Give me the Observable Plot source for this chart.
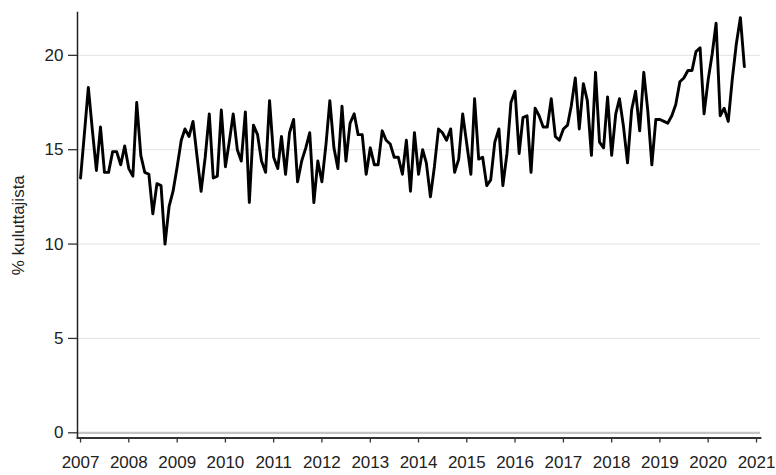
<!DOCTYPE html>
<html>
<head>
<meta charset="utf-8">
<script src="https://cdn.jsdelivr.net/npm/d3@7"></script>
<script src="https://cdn.jsdelivr.net/npm/@observablehq/plot@0.6"></script>
<style>
  html, body { margin: 0; padding: 0; background: #fff; }
  #chart svg { display: block; }
</style>
</head>
<body>
<div id="chart"></div>
<script>
// Monthly series, starting January 2007
const startYear = 2007;
const startMonth = 0;
const values = [
  13.5, 16.0, 18.3, 16.0, 13.9, 16.2, 13.8, 13.8, 14.9, 14.9, 14.2, 15.2,
  14.0, 13.6, 17.5, 14.7, 13.8, 13.7, 11.6, 13.2, 13.1, 10.0, 12.0, 12.8,
  14.1, 15.5, 16.1, 15.7, 16.5, 14.6, 12.8, 14.6, 16.9, 13.5, 13.6, 17.1,
  14.1, 15.5, 16.9, 15.0, 14.4, 17.0, 12.2, 16.3, 15.8, 14.4, 13.8, 17.6,
  14.6, 14.0, 15.7, 13.7, 15.9, 16.6, 13.3, 14.4, 15.1, 15.9, 12.2, 14.4,
  13.3, 15.3, 17.6, 15.1, 14.0, 17.3, 14.4, 16.4, 16.9, 15.8, 15.8, 13.7,
  15.1, 14.2, 14.2, 16.0, 15.5, 15.3, 14.6, 14.6, 13.7, 15.5, 12.8, 15.9,
  13.7, 15.0, 14.3, 12.5, 14.1, 16.1, 15.9, 15.5, 16.1, 13.8, 14.5, 16.9,
  15.3, 13.7, 17.7, 14.5, 14.6, 13.1, 13.4, 15.4, 16.1, 13.1, 14.8, 17.5,
  18.1, 14.8, 16.7, 16.8, 13.8, 17.2, 16.8, 16.2, 16.2, 17.7, 15.7, 15.5,
  16.1, 16.3, 17.3, 18.8, 16.1, 18.5, 17.6, 14.7, 19.1, 15.4, 15.1, 17.8,
  14.7, 16.9, 17.7, 16.2, 14.3, 17.1, 18.1, 16.0, 19.1, 17.1, 14.2, 16.6,
  16.6, 16.5, 16.4, 16.8, 17.4, 18.6, 18.8, 19.2, 19.2, 20.2, 20.4, 16.9,
  18.7, 20.1, 21.7, 16.8, 17.2, 16.5, 18.7, 20.6, 22.0, 19.4
];
const yTicks = [0, 5, 10, 15, 20];
const xTickYears = [2007, 2008, 2009, 2010, 2011, 2012, 2013, 2014, 2015, 2016, 2017, 2018, 2019, 2020, 2021];
const yLabel = "% kuluttajista";

const data = values.map((v, i) => ({
  date: d3.utcMonth.offset(new Date(Date.UTC(startYear, startMonth, 1)), i),
  value: v
}));
const xTicks = xTickYears.map(y => new Date(Date.UTC(y, 0, 1)));

const font = "'Liberation Sans', Arial, Helvetica, sans-serif";
const fs = 17;

const chart = Plot.plot({
  width: 776,
  height: 475,
  marginLeft: 77,
  marginRight: 16,
  marginTop: 12,
  marginBottom: 37.5,
  style: { fontFamily: font, fontSize: fs + "px", color: "#222", background: "#fff" },
  x: { type: "utc", domain: [new Date(Date.UTC(2006, 11, 9)), new Date(Date.UTC(2021, 0, 31))] },
  y: { domain: [-0.276, 22.27] },
  marks: [
    Plot.ruleY(yTicks.filter(d => d !== 0), { stroke: "#e2e2e2", strokeWidth: 1 }),
    Plot.ruleY([0], { stroke: "#c4c4c4", strokeWidth: 2.2 }),
    Plot.axisY({ ticks: yTicks, tickSize: 9, tickPadding: 5, label: null, fontSize: fs, stroke: "#333", strokeWidth: 1.3 }),
    Plot.axisX({ ticks: xTicks, tickFormat: "%Y", tickSize: 5, tickPadding: 12.5, label: null, fontSize: fs, stroke: "#333", strokeWidth: 1.3 }),
    Plot.frame({ anchor: "left", stroke: "#222", strokeWidth: 1.5 }),
    Plot.frame({ anchor: "bottom", stroke: "#333", strokeWidth: 1.8 }),
    Plot.line(data, { x: "date", y: "value", stroke: "#000", strokeWidth: 2.9, strokeLinejoin: "round" }),
    Plot.text([yLabel], { frameAnchor: "left", dx: -59, rotate: -90, text: d => d, fontSize: fs, fill: "#222", textAnchor: "middle", lineAnchor: "middle" })
  ]
});
document.getElementById("chart").appendChild(chart);
</script>
</body>
</html>
